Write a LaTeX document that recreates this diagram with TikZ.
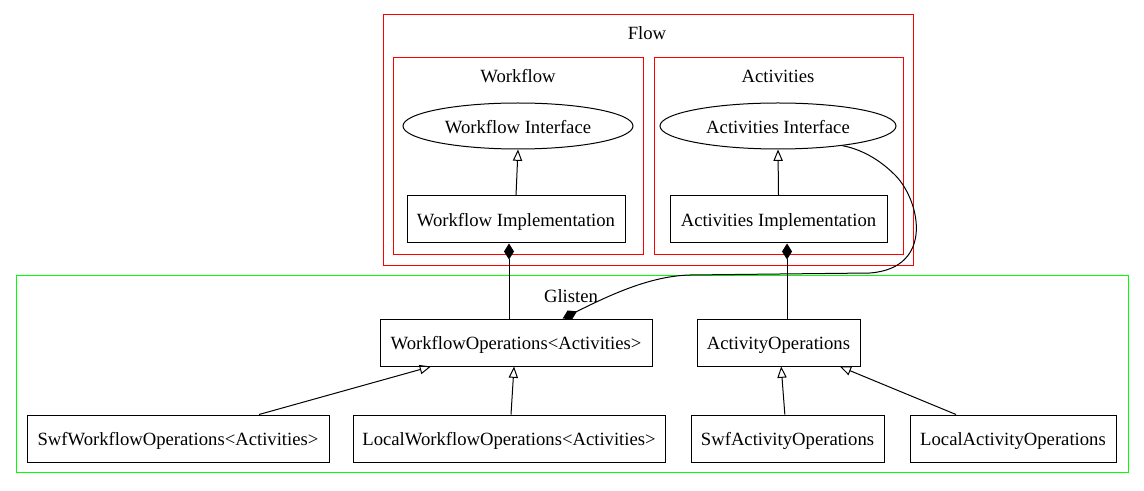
\documentclass[tikz,border=0pt]{standalone}
\usepackage{fontspec}
\setmainfont{Liberation Serif}
\usepackage{tikz}
\usetikzlibrary{arrows.meta,shapes.geometric,positioning}
\definecolor{gvred}{RGB}{255,0,0}
\definecolor{gvgreen}{RGB}{0,255,0}
\tikzset{
  cls/.style={draw, rectangle, inner sep=0, minimum height=35.25pt, text height=11pt, text depth=0pt},
  iface/.style={draw, ellipse, inner sep=0, minimum height=34.5pt, text height=11.5pt, text depth=0pt},
  inherit/.style={-{Triangle[open, length=8.5pt, width=7pt]}},
  compose/.style={{Diamond[length=12pt, width=7.5pt]}-}
}

\begin{document}
\begin{tikzpicture}[x=0.75pt, y=-0.75pt, line width=0.75pt, font=\fontsize{14}{16}\selectfont]
	\useasboundingbox (0,0) rectangle (1144,491);

	% clusters
	\draw[gvred] (383,15) rectangle (913,266);
	\draw[gvred] (393,58) rectangle (643,255);
	\draw[gvred] (654,58) rectangle (903,255);
	\draw[gvgreen] (16,276) rectangle (1128,472);
	\node [] (flow) at (647, 33) {Flow};
	\node [] (workflow) at (518, 76) {Workflow};
	\node [] (activities) at (778, 76) {Activities};
	\node [] (glisten) at (571, 296) {Glisten};

	% Flow
	\node [iface, minimum width=172.5pt] (wfif) at (518, 126) {Workflow Interface};
	\node [iface, minimum width=177pt] (actif) at (778, 126) {Activities Interface};
	\node [cls, minimum width=163.5pt] (wfimpl) at (516, 219.5) {Workflow Implementation};
	\node [cls, minimum width=162.75pt] (actimpl) at (778.5, 219.5) {Activities Implementation};

	% Glisten
	\node [cls, minimum width=204pt] (wfops) at (516, 342.5) {WorkflowOperations<Activities>};
	\node [cls, minimum width=122.25pt] (actops) at (778.5, 342.5) {ActivityOperations};
	\node [cls, minimum width=226.5pt] (swfwf) at (178, 438.5) {SwfWorkflowOperations<Activities>};
	\node [cls, minimum width=234pt] (localwf) at (509, 438.5) {LocalWorkflowOperations<Activities>};
	\node [cls, minimum width=144.75pt] (swfact) at (787.5, 438.5) {SwfActivityOperations};
	\node [cls, minimum width=154.5pt] (localact) at (1013, 438.5) {LocalActivityOperations};

	\draw[inherit] (wfimpl.north) -- (wfif.south);
	\draw[inherit] (actimpl.north) -- (actif.south);

	\draw[compose] ([xshift=-5.25pt]wfimpl.south) -- ([xshift=-5.25pt]wfops.north);
	\draw[compose] ([xshift=6.4pt]actimpl.south) -- ([xshift=6.4pt]actops.north);
	\draw[compose] ([xshift=35pt]wfops.north) .. controls (610,295) and (650,276) .. (690,275)
		-- (870,273) .. controls (935,268) and (920,200) .. (895,175)
		.. controls (875,155) and (855,148) .. (actif.-17);

	\draw[inherit] ([xshift=60.75pt]swfwf.north) -- ([xshift=-63.75pt]wfops.south);
	\draw[inherit] ([xshift=1.5pt]localwf.north) -- ([xshift=-1.5pt]wfops.south);
	\draw[inherit] ([xshift=-2pt]swfact.north) -- ([xshift=2pt]actops.south);
	\draw[inherit] ([xshift=-42.75pt]localact.north) -- ([xshift=46pt]actops.south);
\end{tikzpicture}
\end{document}
